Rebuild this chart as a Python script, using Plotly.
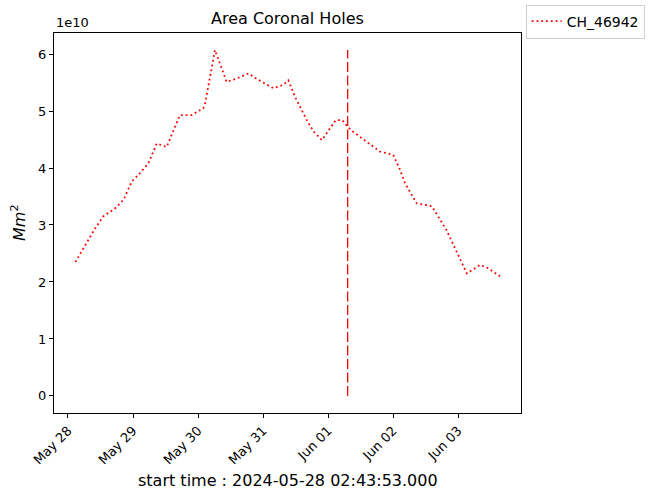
import plotly.graph_objects as go

# ---- data ----
times = [
    "2024-05-28 02:43:53", "2024-05-28 10:00", "2024-05-28 13:00", "2024-05-28 17:20",
    "2024-05-28 20:30", "2024-05-28 23:30", "2024-05-29 02:35", "2024-05-29 05:40",
    "2024-05-29 08:45", "2024-05-29 12:25", "2024-05-29 17:20", "2024-05-29 21:40",
    "2024-05-30 02:00", "2024-05-30 02:40", "2024-05-30 06:15", "2024-05-30 10:35",
    "2024-05-30 14:15", "2024-05-30 18:35", "2024-05-30 21:30", "2024-05-31 03:50",
    "2024-05-31 07:30", "2024-05-31 09:20", "2024-05-31 11:50", "2024-05-31 16:10",
    "2024-05-31 18:40", "2024-05-31 21:45", "2024-06-01 02:50", "2024-06-01 05:15",
    "2024-06-01 07:20", "2024-06-01 09:10", "2024-06-01 19:10", "2024-06-02 00:05",
    "2024-06-02 02:40", "2024-06-02 04:25", "2024-06-02 08:45", "2024-06-02 13:00",
    "2024-06-02 14:20", "2024-06-02 19:45", "2024-06-03 02:30", "2024-06-03 03:15",
    "2024-06-03 08:10", "2024-06-03 11:10", "2024-06-03 15:30",
]
area = [
    2.35e10, 2.94e10, 3.15e10, 3.29e10,
    3.44e10, 3.76e10, 3.91e10, 4.08e10,
    4.43e10, 4.37e10, 4.93e10, 4.93e10,
    5.05e10, 5.14e10, 6.07e10, 5.51e10,
    5.57e10, 5.66e10, 5.57e10, 5.40e10,
    5.46e10, 5.54e10, 5.25e10, 4.84e10,
    4.64e10, 4.49e10, 4.84e10, 4.84e10,
    4.72e10, 4.64e10, 4.29e10, 4.23e10,
    3.96e10, 3.73e10, 3.38e10, 3.35e10,
    3.33e10, 2.91e10, 2.21e10, 2.15e10,
    2.30e10, 2.24e10, 2.10e10,
]
series_name = "CH_46942"
marker_time = "2024-06-01 07:15"
tick_dates = ["2024-05-28", "2024-05-29", "2024-05-30", "2024-05-31",
              "2024-06-01", "2024-06-02", "2024-06-03"]
tick_labels = ["May 28", "May 29", "May 30", "May 31", "Jun 01", "Jun 02", "Jun 03"]
y_ticks = [0, 1e10, 2e10, 3e10, 4e10, 5e10, 6e10]
y_tick_labels = ["0", "1", "2", "3", "4", "5", "6"]

FONT = "DejaVu Sans"

fig = go.Figure()
fig.add_trace(go.Scatter(
    x=times, y=area, mode="lines", name=series_name,
    line=dict(color="red", width=1.8, dash="1.8px,3px"),
))
fig.add_trace(go.Scatter(
    x=[marker_time, marker_time], y=[0, max(area)], mode="lines",
    line=dict(color="red", width=1.3, dash="10px,3.5px"),
    showlegend=False,
))

fig.update_layout(
    width=651, height=496,
    margin=dict(l=54, r=130, t=33, b=83, autoexpand=False),
    paper_bgcolor="white", plot_bgcolor="white",
    font=dict(family=FONT, size=13, color="black"),
    showlegend=True,
    legend=dict(x=1.01, y=1.075, xanchor="left", yanchor="top",
                bordercolor="#d0d0d0", borderwidth=1, bgcolor="white",
                font=dict(family=FONT, size=14), itemwidth=30),
    title=dict(text="Area Coronal Holes", x=0.4415, xanchor="center",
               y=0.963, yanchor="middle", font=dict(family=FONT, size=16)),
)

fig.update_xaxes(
    type="date",
    range=["2024-05-27 18:50", "2024-06-03 23:15"],
    tickvals=tick_dates, ticktext=tick_labels, tickangle=-45,
    showline=True, linecolor="black", linewidth=1, mirror=True,
    ticks="outside", ticklen=4, tickcolor="black",
    showgrid=False, zeroline=False,
    tickfont=dict(family=FONT, size=13),
)
fig.update_yaxes(
    range=[-0.30e10, 6.37e10],
    tickvals=y_ticks, ticktext=y_tick_labels,
    showline=True, linecolor="black", linewidth=1, mirror=True,
    ticks="outside", ticklen=4, tickcolor="black",
    showgrid=False, zeroline=False,
    tickfont=dict(family=FONT, size=13),
)

fig.add_annotation(text="1e10", xref="paper", yref="paper", x=0, y=1.0,
                   xanchor="left", yanchor="bottom", showarrow=False,
                   font=dict(family=FONT, size=13), yshift=1)
fig.add_annotation(text="<i>Mm</i><sup>2</sup>", xref="paper", yref="paper",
                   x=-0.0, y=0.5, xshift=-36, xanchor="center", yanchor="middle",
                   textangle=-90, showarrow=False, font=dict(family=FONT, size=16))
fig.add_annotation(text="start time : 2024-05-28 02:43:53.000", xref="paper", yref="paper",
                   x=0.5, y=0, yshift=-67, xanchor="center", yanchor="middle",
                   showarrow=False, font=dict(family=FONT, size=16))

fig.write_html("out.html")
